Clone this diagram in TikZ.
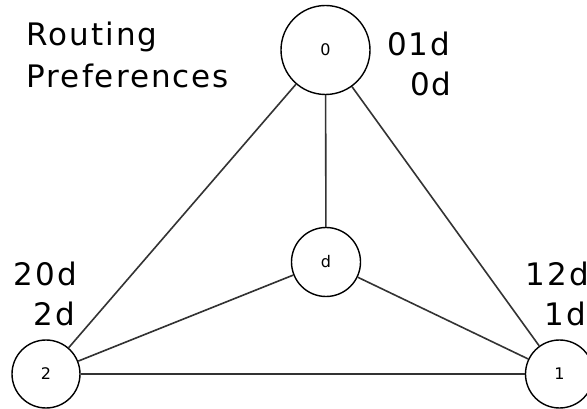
\documentclass[tikz,border=0pt]{standalone}
\usepackage{fontspec}
\setmainfont{DejaVu Sans}
\newfontfamily\preffont[LetterSpace=6.5]{DejaVu Sans}
\begin{document}
\begin{tikzpicture}[x=1pt,y=-1pt,
  router/.style={circle,draw=black,line width=1.4pt,fill=white,inner sep=0pt,
    font=\fontsize{16}{16}\selectfont},
  link/.style={draw=black!80,line width=1.6pt},
  pref/.style={inner sep=0pt,anchor=base west,font=\preffont\fontsize{31}{31}\selectfont}]
\clip (0,0) rectangle (587,409);
\fill[white] (0,0) rectangle (587,409);
% routers
\node[router,minimum size=89pt] (r0) at (325.5,50) {0};
\node[router,minimum size=69pt] (rd) at (326,262) {d};
\node[router,minimum size=68pt] (r2) at (46,374) {2};
\node[router,minimum size=68pt] (r1) at (559.5,374) {1};
% links
\draw[link] (r0) -- (r2);
\draw[link] (r0) -- (rd);
\draw[link] (r0) -- (r1);
\draw[link] (rd) -- (r2);
\draw[link] (rd) -- (r1);
\draw[link] (r2) -- (r1);
% routing preference lists
\node[pref] (title1) at (26.5,46) {Routing};
\node[pref] (title2) at (26.5,87.5) {Preferences};
\node[pref] (p0a) at (387,55.5) {01d};
\node[pref] (p0b) at (410,96) {0d};
\node[pref] (p2a) at (13.5,285) {20d};
\node[pref] (p2b) at (33.5,325) {2d};
\node[pref] (p1a) at (525.5,285) {12d};
\node[pref] (p1b) at (544.5,325) {1d};
\end{tikzpicture}
\end{document}
